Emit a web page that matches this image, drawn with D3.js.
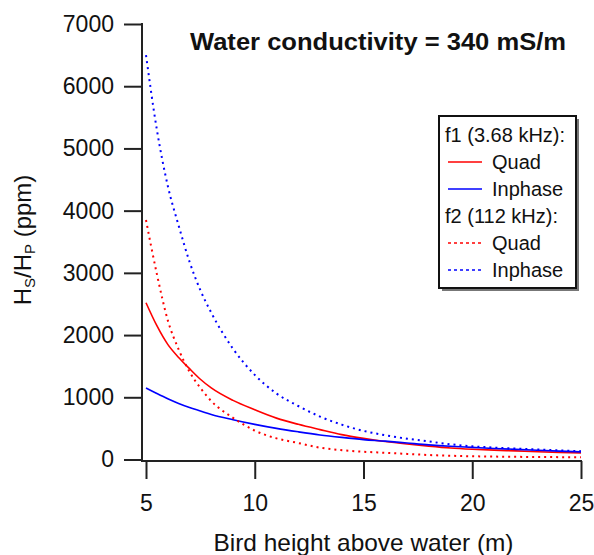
<!DOCTYPE html>
<html>
<head>
<meta charset="utf-8">
<script src="https://cdn.jsdelivr.net/npm/d3@7"></script>
<style>
  html, body { margin: 0; padding: 0; background: #fff; }
  svg { display: block; }
  text { font-family: "Liberation Sans", Arial, sans-serif; fill: #111; }
</style>
</head>
<body>
<svg id="chart" width="594" height="555"></svg>
<script>
// ---- data ----
const heights = [5, 5.5, 6, 6.5, 7, 7.5, 8, 9, 10, 11, 12, 13, 14, 15, 16, 17, 18, 19, 20, 21, 22, 23, 24, 25];
const f1Quad    = [2520, 2150, 1850, 1640, 1460, 1290, 1150, 950, 800, 665, 565, 480, 400, 340, 290, 250, 215, 185, 165, 150, 138, 125, 115, 107];
const f1Inphase = [1150, 1060, 975, 900, 835, 780, 725, 640, 565, 500, 445, 395, 355, 320, 295, 265, 235, 212, 195, 178, 162, 148, 135, 123];
const f2Quad    = [3850, 2980, 2240, 1770, 1410, 1150, 940, 670, 465, 340, 265, 190, 150, 125, 108, 90, 72, 60, 52, 47, 43, 40, 38, 37];
const f2Inphase = [6500, 5300, 4400, 3760, 3180, 2720, 2360, 1780, 1360, 1060, 860, 690, 560, 460, 390, 335, 290, 245, 212, 192, 175, 160, 146, 134];
const xTicks = [5, 10, 15, 20, 25];
const yTicks = [0, 1000, 2000, 3000, 4000, 5000, 6000, 7000];
const titleText = "Water conductivity = 340 mS/m";
const xLabel = "Bird height above water (m)";
const legendHeaders = ["f1 (3.68 kHz):", "f2 (112 kHz):"];
const seriesNames = ["Quad", "Inphase"];

const series = [
  { group: 0, name: "Quad",    values: f1Quad,    color: "#ff0000", dashed: false },
  { group: 0, name: "Inphase", values: f1Inphase, color: "#0000ff", dashed: false },
  { group: 1, name: "Quad",    values: f2Quad,    color: "#ff0000", dashed: true },
  { group: 1, name: "Inphase", values: f2Inphase, color: "#0000ff", dashed: true }
];

const svg = d3.select("#chart");
const x = d3.scaleLinear().domain([5, 25]).range([146, 581]);
const y = d3.scaleLinear().domain([0, 7000]).range([459.5, 24]);
const axisX = 142, axisY = 461;
const axisColor = "#222";

// curves
const line = d3.line().x(d => x(d[0])).y(d => y(d[1])).curve(d3.curveMonotoneX);
series.forEach(s => {
  svg.append("path")
    .datum(heights.map((h, i) => [h, s.values[i]]))
    .attr("d", line)
    .attr("fill", "none")
    .attr("stroke", s.color)
    .attr("stroke-width", s.dashed ? 2 : 1.6)
    .attr("stroke-dasharray", s.dashed ? "2,4" : null);
});

// y axis
const gy = svg.append("g").attr("transform", `translate(${axisX},0)`)
  .call(d3.axisLeft(y).tickValues(yTicks).tickSize(18).tickPadding(10).tickFormat(d3.format("d")));
gy.select(".domain").remove();
gy.selectAll(".tick line").attr("stroke", axisColor).attr("stroke-width", 2);
gy.selectAll(".tick text").attr("font-size", 23).attr("font-family", "Liberation Sans, Arial, sans-serif").attr("fill", "#111");

// x axis
const gx = svg.append("g").attr("transform", `translate(0,${axisY})`)
  .call(d3.axisBottom(x).tickValues(xTicks).tickSize(18).tickPadding(16).tickFormat(d3.format("d")));
gx.select(".domain").remove();
gx.selectAll(".tick line").attr("stroke", axisColor).attr("stroke-width", 2);
gx.selectAll(".tick text").attr("font-size", 23).attr("font-family", "Liberation Sans, Arial, sans-serif").attr("fill", "#111");

// axis lines
svg.append("line").attr("x1", axisX).attr("x2", axisX).attr("y1", y(7000) - 1).attr("y2", axisY + 1)
  .attr("stroke", axisColor).attr("stroke-width", 2);
svg.append("line").attr("x1", axisX).attr("x2", x(25) + 1).attr("y1", axisY).attr("y2", axisY)
  .attr("stroke", axisColor).attr("stroke-width", 2);

// title
svg.append("text").attr("x", 378).attr("y", 50).attr("text-anchor", "middle")
  .attr("font-size", 23).attr("font-weight", "bold")
  .attr("textLength", 376).attr("lengthAdjust", "spacingAndGlyphs")
  .text(titleText);

// x label
svg.append("text").attr("x", 363.5).attr("y", 551).attr("text-anchor", "middle")
  .attr("font-size", 24).attr("textLength", 300).attr("lengthAdjust", "spacingAndGlyphs")
  .text(xLabel);

// y label with subscripts
const yl = svg.append("text").attr("transform", "translate(31,240) rotate(-90)")
  .attr("text-anchor", "middle").attr("font-size", 24);
yl.append("tspan").text("H");
yl.append("tspan").attr("font-size", 15).attr("dy", 4).text("S");
yl.append("tspan").attr("dy", -4).text("/H");
yl.append("tspan").attr("font-size", 15).attr("dy", 4).text("P");
yl.append("tspan").attr("dy", -4).text(" (ppm)");

// legend
const lg = svg.append("g");
const bx = 439, by = 116, bw = 137, bh = 172;
lg.append("rect").attr("x", bx + 3).attr("y", by + 3).attr("width", bw).attr("height", bh).attr("fill", "#777");
lg.append("rect").attr("x", bx).attr("y", by).attr("width", bw).attr("height", bh)
  .attr("fill", "#fff").attr("stroke", "#111").attr("stroke-width", 2);
const rowY = i => 135 + i * 27;
let row = 0;
legendHeaders.forEach((hdr, g) => {
  lg.append("text").attr("x", 445).attr("y", rowY(row) + 7).attr("font-size", 20).text(hdr);
  row++;
  series.filter(s => s.group === g).forEach(s => {
    lg.append("line").attr("x1", 448).attr("x2", 482).attr("y1", rowY(row)).attr("y2", rowY(row))
      .attr("stroke", s.color).attr("stroke-width", s.dashed ? 1.6 : 1.6)
      .attr("stroke-dasharray", s.dashed ? "3,3" : null);
    lg.append("text").attr("x", 492).attr("y", rowY(row) + 7).attr("font-size", 20).text(s.name);
    row++;
  });
});
</script>
</body>
</html>
